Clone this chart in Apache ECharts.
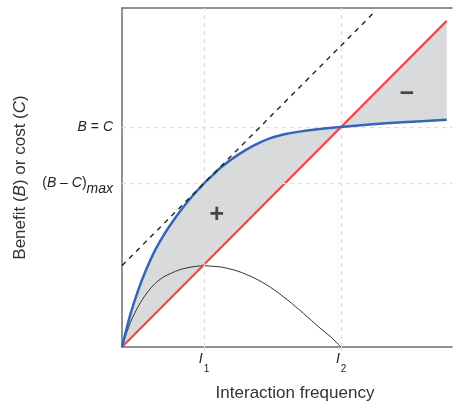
<!DOCTYPE html>
<html>
<head>
<meta charset="utf-8">
<script src="https://cdn.jsdelivr.net/npm/echarts@6/dist/echarts.min.js"></script>
<style>
  html, body { margin: 0; padding: 0; background: #fff; }
  #chart { width: 454px; height: 407px; }
</style>
</head>
<body>
<div id="chart"></div>
<script>
// benefit curve B (x, y)
var benefit = [
  [0, 0], [0.25, 0.95], [0.5, 1.70], [0.75, 2.32], [1.0, 2.85], [1.25, 3.28],
  [1.5, 3.65], [1.75, 3.99], [2.0, 4.30], [2.25, 4.58], [2.485, 4.83],
  [2.75, 5.07], [3.0, 5.30], [3.5, 5.66], [4.0, 5.95], [4.5, 6.16],
  [5.0, 6.29], [5.5, 6.37], [6.0, 6.43], [6.64, 6.49], [7.5, 6.56],
  [8.5, 6.63], [9.84, 6.70]
];
// cost line C
var cost = [[0, 0], [9.84, 9.62]];
// net benefit B - C
var net = [
  [0, 0], [0.25, 0.71], [0.5, 1.21], [0.75, 1.59], [1.0, 1.87], [1.25, 2.06],
  [1.5, 2.18], [1.75, 2.28], [2.0, 2.34], [2.25, 2.38], [2.485, 2.40],
  [2.75, 2.38], [3.0, 2.36], [3.5, 2.24], [4.0, 2.04], [4.5, 1.76],
  [5.0, 1.40], [5.5, 0.99], [6.0, 0.56], [6.3, 0.32], [6.64, 0]
];
// tangent to B at I1 (dashed)
var tangent = [[0, 2.40], [7.64, 9.87]];

var xTickValues = [2.485, 6.64];
var xTickLabels = ['{i|I}{s|1}', '{i|I}{s|2}'];
var yTickValues = [4.83, 6.49];
var yTickLabels = ['({i|B} \u2013 {i|C}){m|max}', '{i|B} = {i|C}'];

var signs = [[2.87, 3.90, '+'], [8.63, 7.45, '\u2212']];

var font = '"Liberation Sans", Arial, sans-serif';
var axisColor = '#6e6e6e';
var gridColor = '#dedede';

var chart = echarts.init(document.getElementById('chart'));

var gridLines = xTickValues.map(function (v) { return { xAxis: v }; })
  .concat(yTickValues.map(function (v) { return { yAxis: v }; }));

chart.setOption({
  animation: false,
  grid: { left: 122, right: 2, top: 8, bottom: 59.5 },
  xAxis: [{
    type: 'value', min: 0, max: 10,
    name: 'Interaction frequency',
    nameLocation: 'middle', nameGap: 38,
    nameTextStyle: { fontFamily: font, fontSize: 17, color: '#333', padding: [0, 0, 0, 16] },
    axisLine: { show: true, lineStyle: { color: axisColor, width: 1.5 } },
    axisTick: { show: true, customValues: xTickValues, length: 4, lineStyle: { color: gridColor } },
    splitLine: { show: false },
    axisLabel: {
      customValues: xTickValues, margin: 5,
      formatter: function (v) { return xTickLabels[xTickValues.indexOf(v)]; },
      rich: {
        i: { fontFamily: font, fontSize: 14, fontStyle: 'italic', color: '#222', verticalAlign: 'top', lineHeight: 16 },
        s: { fontFamily: font, fontSize: 10, color: '#222', verticalAlign: 'bottom', lineHeight: 22, padding: [0, 0, 0, 1] }
      }
    }
  }, {
    type: 'value', min: 0, max: 10, position: 'top',
    axisLine: { show: true, lineStyle: { color: axisColor, width: 1.5 } },
    axisTick: { show: false }, axisLabel: { show: false }, splitLine: { show: false }
  }],
  yAxis: {
    type: 'value', min: 0, max: 10,
    name: 'Benefit ({i|B}) or cost ({i|C})',
    nameLocation: 'middle', nameGap: 93,
    nameTextStyle: {
      fontFamily: font, fontSize: 17, color: '#333',
      rich: { i: { fontFamily: font, fontSize: 17, fontStyle: 'italic', color: '#333' } }
    },
    axisLine: { show: true, lineStyle: { color: axisColor, width: 1.5 } },
    axisTick: { show: true, inside: true, customValues: yTickValues, length: 4, lineStyle: { color: gridColor } },
    splitLine: { show: false },
    axisLabel: {
      customValues: yTickValues, margin: 9,
      fontFamily: font, fontSize: 14, color: '#222',
      formatter: function (v) { return yTickLabels[yTickValues.indexOf(v)]; },
      rich: {
        i: { fontFamily: font, fontSize: 14, fontStyle: 'italic', color: '#222' },
        m: { fontFamily: font, fontSize: 14, fontStyle: 'italic', color: '#222', padding: [11, 0, 0, 0] }
      }
    }
  },
  series: [
    {
      type: 'custom', z: 1, silent: true,
      data: [[0, 0]],
      renderItem: function (params, api) {
        var pts = benefit.map(function (p) { return api.coord(p); });
        cost.slice().reverse().forEach(function (p) { pts.push(api.coord(p)); });
        return { type: 'polygon', shape: { points: pts }, style: { fill: '#d9dadc' } };
      }
    },
    {
      type: 'line', z: 2, data: [], silent: true,
      markLine: {
        silent: true, symbol: 'none', label: { show: false },
        lineStyle: { color: gridColor, type: [4, 4], width: 1.3 },
        data: gridLines
      }
    },
    {
      type: 'line', z: 3, data: net, showSymbol: false, smooth: 0.3,
      lineStyle: { color: '#333', width: 1 }
    },
    {
      type: 'line', z: 4, data: cost, showSymbol: false,
      lineStyle: { color: '#f0474f', width: 2.2 }
    },
    {
      type: 'line', z: 5, data: benefit, showSymbol: false, smooth: 0.3,
      lineStyle: { color: '#3466b8', width: 2.5 }
    },
    {
      type: 'line', z: 6, data: tangent, showSymbol: false,
      lineStyle: { color: '#222', width: 1.4, type: [5, 5] }
    },
    {
      type: 'scatter', z: 7, data: signs, symbolSize: 0, silent: true,
      label: {
        show: true, position: 'inside',
        fontFamily: font, fontSize: 25, fontWeight: 'bold', color: '#222',
        formatter: function (p) { return p.data[2]; }
      }
    }
  ]
});
</script>
</body>
</html>
